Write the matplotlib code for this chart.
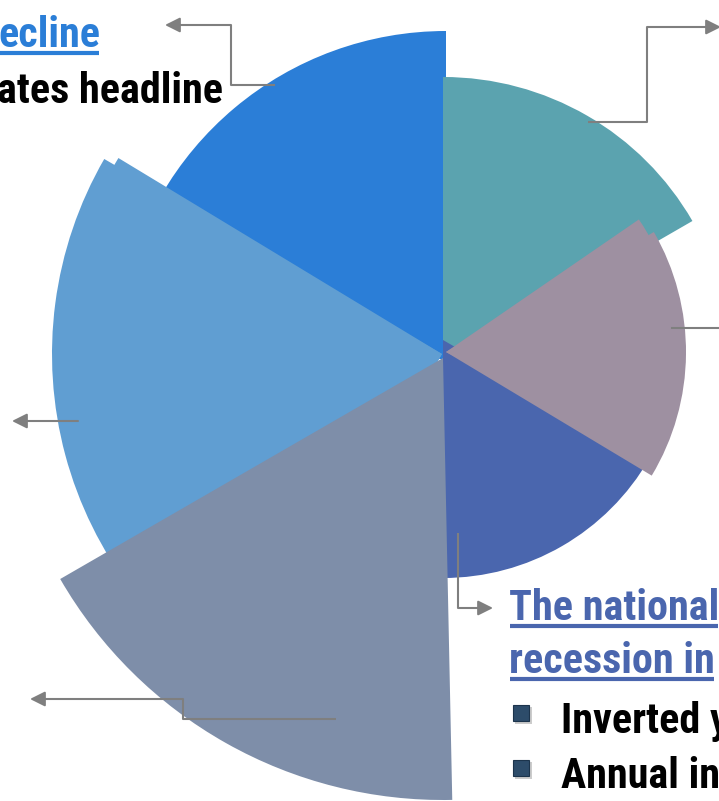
import os
import matplotlib.pyplot as plt
from matplotlib import font_manager as fm
from matplotlib.font_manager import FontProperties
from matplotlib.patches import Wedge, Rectangle

W, H = 719, 801

# rose segments, clockwise from 12 o'clock (degrees)
segments = ['teal', 'mauve', 'navy', 'slate', 'sky', 'blue']
theta_start = [0, 60, 120, 178.8, 210, 280]
theta_end = [60, 121, 180, 240, 300, 360]
radii = [288, 240, 238, 442, 390, 329]
colors = ['#5BA3AF', '#9E90A1', '#4A66AE', '#7E8EA9', '#609ED2', '#2B7ED7']
# apex nudge of each segment away from the hub (px)
explode = [(0, 25), (3, 12), (0, 0), (0, 18), (-1, 14), (3, 20)]
# offset copy drawn under a segment: angle shift and radius scale
ghost_shift = [0, -4.5, 0, 0, 1.2, 0]
ghost_scale = [1, 0.975, 1, 1, 0.97, 1]
draw_order = [5, 0, 2, 1, 4, 3]
hub = (443, 340)

# callout text
left_title = 'ecline'
left_line = 'ates headline'
right_titles = ['The national', 'recession in']
right_bullets = ['Inverted y', 'Annual in']

# leader lines, last point is the arrow tip
leaders = [
    ([(275, 85), (231, 85), (231, 25), (165, 25)], True),
    ([(588, 122), (647, 122), (647, 27), (721, 27)], True),
    ([(672, 328), (725, 328)], False),
    ([(78, 421), (12, 421)], True),
    ([(336, 719), (183, 719), (183, 699), (30, 699)], True),
    ([(458, 533), (458, 608), (493, 608)], True),
]

GRAY = '#7F7F7F'


def pick_font():
    # prefer a narrow bold sans; fall back to regular-width Liberation Sans
    wanted = ['LiberationSansNarrow-Bold', 'ArialNarrow', 'RobotoCondensed-Bold',
              'NotoSans-CondensedBold', 'OpenSans-CondensedBold',
              'NotoSans-SemiCondensedBold', 'Roboto-Bold', 'LiberationSans-Bold']
    files = {os.path.basename(f.fname).split('.')[0]: f.fname
             for f in fm.fontManager.ttflist}
    for w in wanted:
        for name, path in files.items():
            if name.replace(' ', '') == w:
                return path
    return None


font_path = pick_font()

fig = plt.figure(figsize=(W / 100, H / 100), dpi=100)
ax = fig.add_axes([0, 0, 1, 1])
ax.set_xlim(0, W)
ax.set_ylim(H, 0)
ax.axis('off')


def seg_wedge(i, shift=0.0, scale=1.0, z=1):
    cx = hub[0] + explode[i][0]
    cy = hub[1] + explode[i][1]
    # y axis points down, so matplotlib angle = compass angle - 90
    w = Wedge((cx, cy), radii[i] * scale,
              theta_start[i] + shift - 90, theta_end[i] + shift - 90,
              facecolor=colors[i], edgecolor='none', zorder=z)
    ax.add_patch(w)


for k, i in enumerate(draw_order):
    if ghost_shift[i]:
        seg_wedge(i, ghost_shift[i], ghost_scale[i], z=1 + k * 0.1)
    seg_wedge(i, z=1.05 + k * 0.1)

# leader lines with arrow heads
for pts, head in leaders:
    xs = [p[0] for p in pts]
    ys = [p[1] for p in pts]
    if head:
        ax.plot(xs[:-1], ys[:-1], color=GRAY, lw=1.5, zorder=5,
                solid_capstyle='butt')
        ax.annotate('', xy=pts[-1], xytext=pts[-2], annotation_clip=False,
                    arrowprops=dict(arrowstyle='-|>,head_length=0.9,head_width=0.45',
                                    color=GRAY, lw=1.5, shrinkA=0, shrinkB=0),
                    zorder=5)
    else:
        ax.plot(xs, ys, color=GRAY, lw=1.5, zorder=5)

renderer = fig.canvas.get_renderer()

# size the font so a headline line spans the same width as the layout
base = FontProperties(fname=font_path, weight='bold', size=30) if font_path \
    else FontProperties(family='Liberation Sans', weight='bold', size=30)
probe = ax.text(0, -100, left_line, fontproperties=base)
probe_w = probe.get_window_extent(renderer=renderer).width
probe.remove()
font_size = min(31.0, 30 * 226 / probe_w)
FP = base.copy()
FP.set_size(font_size)


def label(x, y, s, color, underline=False):
    t = ax.text(x, y, s, color=color, fontproperties=FP,
                ha='left', va='baseline', zorder=6)
    if underline:
        bb = t.get_window_extent(renderer=renderer)
        ax.plot([bb.x0 + 1, bb.x1 - 1], [y + 6, y + 6], color=color,
                lw=3, solid_capstyle='butt', zorder=6)
    return t


label(-2, 47, left_title, '#2B7ED7', underline=True)
label(-3, 103, left_line, 'black')

for j, s in enumerate(right_titles):
    label(509, 620 + j * 53, s, '#4A66AE', underline=True)

for j, s in enumerate(right_bullets):
    yb = 733 + j * 55
    # square bullet with a soft drop shadow
    ax.add_patch(Rectangle((515, yb - 26), 17, 17, facecolor='#9A9A9A',
                           edgecolor='none', alpha=0.5, zorder=6))
    ax.add_patch(Rectangle((513, yb - 28), 16, 16, facecolor='#2D4C6A',
                           edgecolor='#1C344C', lw=0.8, zorder=6.1))
    label(561, yb, s, 'black')

fig.savefig('out.png', dpi=100)
